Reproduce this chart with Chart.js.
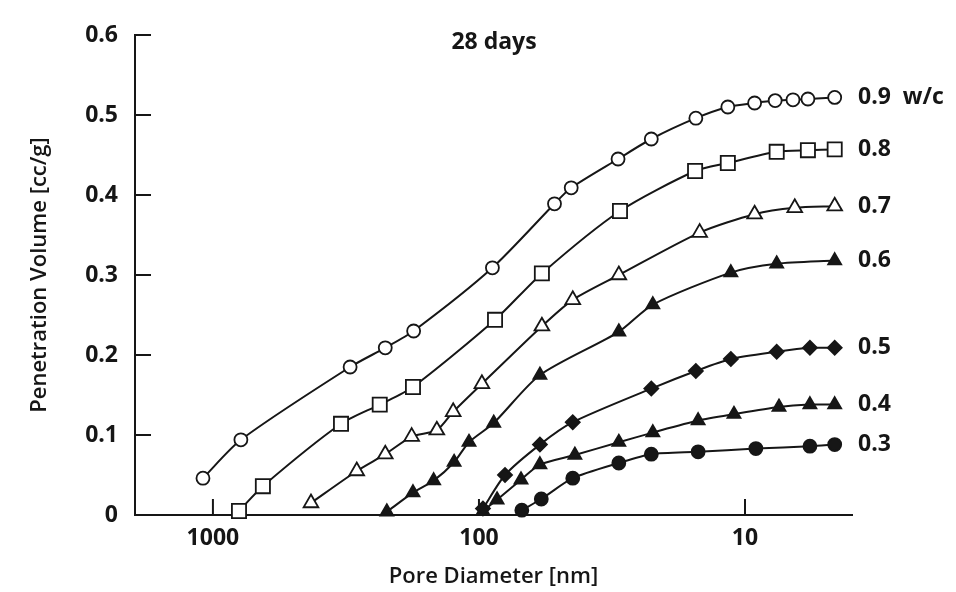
<!DOCTYPE html>
<html lang="en">
<head>
  <meta charset="UTF-8" />
  <title>Pore size distribution - 28 days</title>
  <script src="https://cdn.jsdelivr.net/npm/chart.js"></script>
  <style>
    body { margin: 0; background: #fff; }
  </style>
</head>
<body>
  <canvas id="poreChart" width="956" height="592"></canvas>

  <script>
    // pore diameter [nm] and penetration volume [cc/g], one pair per w/c ratio
    const d09 = [1090, 785, 305, 225, 176, 89, 52, 45, 30, 22.5, 15.3, 11.6, 9.2, 7.7, 6.6, 5.8, 4.6];
    const v09 = [0.046, 0.094, 0.185, 0.209, 0.230, 0.309, 0.389, 0.409, 0.445, 0.470, 0.496, 0.510, 0.515, 0.518, 0.519, 0.520, 0.522];

    const d08 = [798, 649, 330, 236, 177, 87, 58, 29.5, 15.4, 11.6, 7.6, 5.8, 4.6];
    const v08 = [0.005, 0.036, 0.114, 0.138, 0.160, 0.244, 0.302, 0.380, 0.430, 0.440, 0.454, 0.456, 0.457];

    const d07 = [428, 288, 225, 179, 144, 125, 97.5, 58, 44.4, 29.8, 14.8, 9.2, 6.5, 4.6];
    const v07 = [0.015, 0.055, 0.076, 0.098, 0.106, 0.129, 0.164, 0.236, 0.269, 0.300, 0.353, 0.376, 0.384, 0.386];

    const d06 = [222, 177, 148, 124, 109, 88, 59, 29.8, 22.2, 11.3, 7.6, 4.6];
    const v06 = [0.004, 0.028, 0.043, 0.066, 0.091, 0.115, 0.175, 0.229, 0.263, 0.303, 0.314, 0.318];

    const d05 = [96.6, 79.8, 59, 44.4, 22.5, 15.3, 11.3, 7.6, 5.7, 4.6];
    const v05 = [0.008, 0.050, 0.088, 0.116, 0.158, 0.180, 0.195, 0.204, 0.209, 0.209];

    const d04 = [96.6, 85.5, 69.5, 59, 43.6, 29.8, 22.2, 15, 11, 7.45, 5.7, 4.6];
    const v04 = [0.005, 0.019, 0.044, 0.063, 0.075, 0.091, 0.103, 0.118, 0.126, 0.135, 0.138, 0.138];

    const d03 = [69, 58.3, 44.4, 29.8, 22.5, 15, 9.1, 5.7, 4.6];
    const v03 = [0.006, 0.020, 0.046, 0.065, 0.076, 0.079, 0.083, 0.086, 0.088];

    const seriesLabels = ['0.9  w/c', '0.8', '0.7', '0.6', '0.5', '0.4', '0.3'];
    const xTickValues = [1000, 100, 10];

    const ink = '#161616';
    const font = '"Open Sans", sans-serif';

    const toPoints = (d, v) => d.map((x, i) => ({ x, y: v[i] }));

    const series = (label, d, v, style, radius, filled) => ({
      label,
      data: toPoints(d, v),
      borderColor: ink,
      borderWidth: 2,
      tension: 0.25,
      pointStyle: style,
      pointRadius: radius,
      pointHoverRadius: radius,
      pointBorderWidth: 1.8,
      pointBorderColor: ink,
      pointBackgroundColor: filled ? ink : '#fff',
      clip: false
    });

    // tick marks drawn inside the plot, like the original figure
    const innerTicks = {
      id: 'innerTicks',
      beforeDatasetsDraw(chart) {
        const { ctx, chartArea, scales } = chart;
        ctx.save();
        ctx.strokeStyle = ink;
        ctx.lineWidth = 2;
        scales.y.ticks.forEach(t => {
          if (t.value === 0) return;
          const py = scales.y.getPixelForValue(t.value);
          ctx.beginPath();
          ctx.moveTo(chartArea.left, py);
          ctx.lineTo(chartArea.left + 16, py);
          ctx.stroke();
        });
        scales.x.ticks.forEach(t => {
          const px = scales.x.getPixelForValue(t.value);
          ctx.beginPath();
          ctx.moveTo(px, chartArea.bottom);
          ctx.lineTo(px, chartArea.bottom - 16);
          ctx.stroke();
        });
        ctx.restore();
      }
    };

    // w/c labels at the end of each curve + the "28 days" caption
    const endLabels = {
      id: 'endLabels',
      afterDatasetsDraw(chart) {
        const { ctx, chartArea } = chart;
        ctx.save();
        ctx.fillStyle = ink;
        ctx.font = `bold 23px ${font}`;
        ctx.textBaseline = 'middle';
        ctx.textAlign = 'left';
        chart.data.datasets.forEach((ds, i) => {
          const pts = chart.getDatasetMeta(i).data;
          const last = pts[pts.length - 1];
          ctx.fillText(seriesLabels[i], chartArea.right + 6, last.y);
        });
        ctx.font = `bold 23px ${font}`;
        ctx.textAlign = 'center';
        ctx.fillText('28 days', 494, 42);
        ctx.restore();
      }
    };

    new Chart(document.getElementById('poreChart'), {
      type: 'line',
      data: {
        datasets: [
          series('0.9', d09, v09, 'circle', 6.5, false),
          series('0.8', d08, v08, 'rect', 10, false),
          series('0.7', d07, v07, 'triangle', 8.5, false),
          series('0.6', d06, v06, 'triangle', 7.5, true),
          series('0.5', d05, v05, 'rectRot', 7, true),
          series('0.4', d04, v04, 'triangle', 7.5, true),
          series('0.3', d03, v03, 'circle', 6.5, true)
        ]
      },
      options: {
        responsive: false,
        animation: false,
        events: [],
        layout: { padding: { left: 27, right: 104, top: 35, bottom: 2 } },
        plugins: {
          legend: { display: false },
          tooltip: { enabled: false }
        },
        scales: {
          x: {
            type: 'logarithmic',
            reverse: true,
            min: 3.96,
            max: 1963,
            grid: { display: false, drawTicks: false },
            border: { display: true, color: ink, width: 2 },
            afterBuildTicks: s => { s.ticks = xTickValues.map(v => ({ value: v })); },
            afterFit: s => { s.height = 75; },
            ticks: {
              autoSkip: false,
              maxRotation: 0,
              padding: 10,
              color: ink,
              font: { family: font, size: 23, weight: 'bold' },
              callback: v => String(v)
            },
            title: {
              display: true,
              text: 'Pore Diameter [nm]',
              color: ink,
              padding: 0,
              font: { family: font, size: 22, weight: '600' }
            }
          },
          y: {
            min: 0,
            max: 0.6,
            grid: { display: false, drawTicks: false },
            border: { display: true, color: ink, width: 2 },
            afterFit: s => { s.width = 108; },
            ticks: {
              stepSize: 0.1,
              padding: 17,
              color: ink,
              font: { family: font, size: 23, weight: 'bold' },
              callback: v => (v === 0 ? '0' : v.toFixed(1))
            },
            title: {
              display: true,
              text: 'Penetration Volume [cc/g]',
              color: ink,
              padding: 0,
              font: { family: font, size: 22, weight: '600' }
            }
          }
        }
      },
      plugins: [innerTicks, endLabels]
    });
  </script>
</body>
</html>
